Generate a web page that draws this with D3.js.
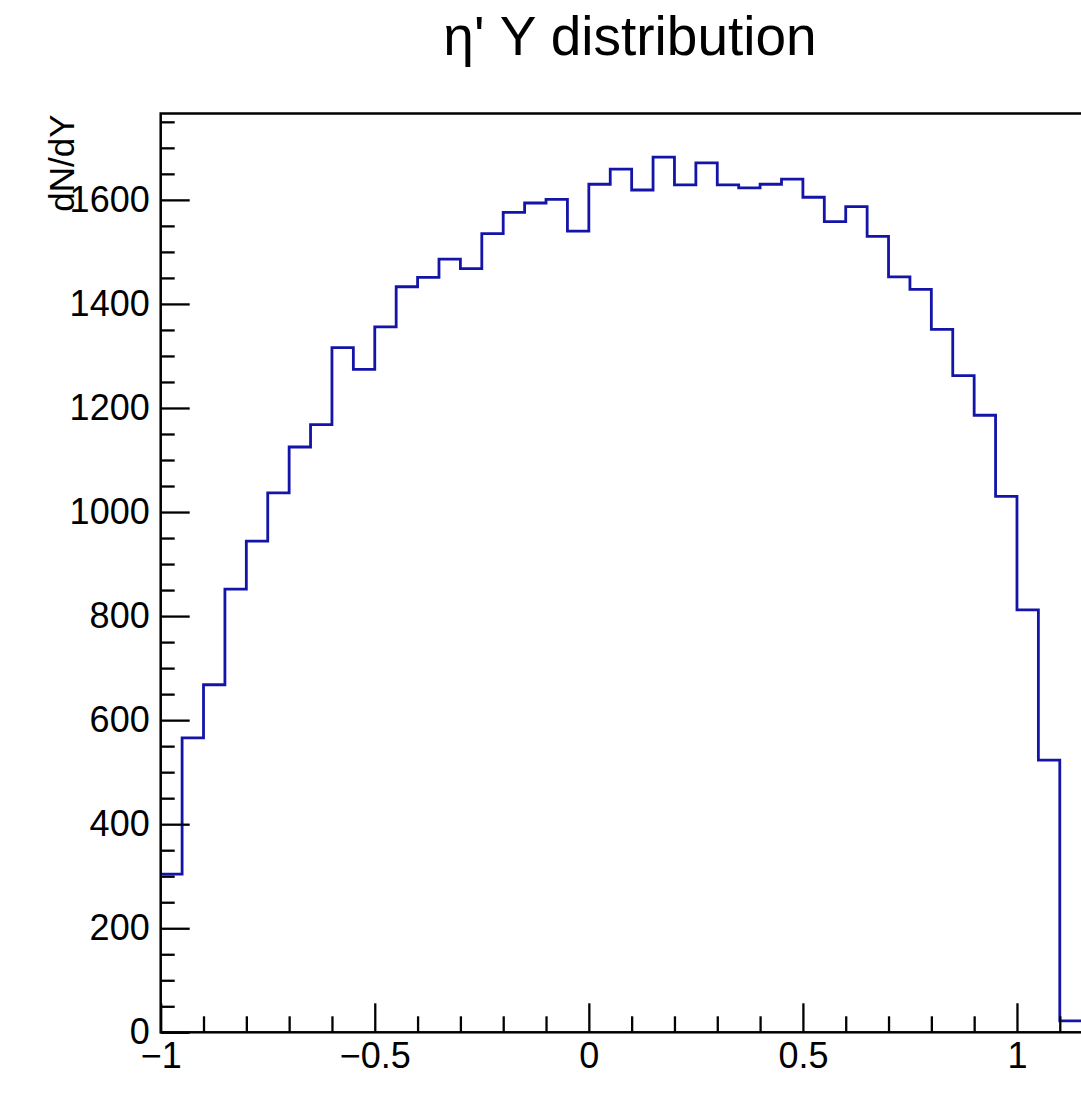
<!DOCTYPE html>
<html>
<head>
<meta charset="utf-8">
<script src="https://cdn.jsdelivr.net/npm/d3@7"></script>
<style>
  html, body { margin: 0; padding: 0; background: #ffffff; }
  svg { display: block; font-family: "Liberation Sans", Arial, Helvetica, sans-serif; }
</style>
</head>
<body>
<svg id="chart" width="1081" height="1100"></svg>
<script>
// ---- data ----
const titleText = "η' Y distribution";
const yTitle = "dN/dY";
const xTitle = "Y";
const binWidth = 0.05;
const binLowEdges = [-1.00, -0.95, -0.90, -0.85, -0.80, -0.75, -0.70, -0.65, -0.60, -0.55,
                     -0.50, -0.45, -0.40, -0.35, -0.30, -0.25, -0.20, -0.15, -0.10, -0.05,
                      0.00,  0.05,  0.10,  0.15,  0.20,  0.25,  0.30,  0.35,  0.40,  0.45,
                      0.50,  0.55,  0.60,  0.65,  0.70,  0.75,  0.80,  0.85,  0.90,  0.95,
                      1.00,  1.05,  1.10];
const counts = [304, 566, 668, 852, 944, 1037, 1125, 1168, 1316, 1274,
                1356, 1433, 1451, 1486, 1468, 1535, 1576, 1594, 1601, 1540,
                1630, 1659, 1619, 1682, 1629, 1671, 1629, 1623, 1630, 1640,
                1605, 1558, 1587, 1530, 1452, 1428, 1351, 1262, 1186, 1030,
                812, 523, 22];
const xMajorTicks = [-1, -0.5, 0, 0.5, 1];
const xMajorLabels = ["\u22121", "\u22120.5", "0", "0.5", "1"];
const xMinorTicks = [-0.9, -0.8, -0.7, -0.6, -0.4, -0.3, -0.2, -0.1, 0.1, 0.2, 0.3, 0.4,
                     0.6, 0.7, 0.8, 0.9, 1.1];
const yMajorTicks = [0, 200, 400, 600, 800, 1000, 1200, 1400, 1600];
const yMinorTicks = [50, 100, 150, 250, 300, 350, 450, 500, 550, 650, 700, 750, 850, 900, 950,
                     1050, 1100, 1150, 1250, 1300, 1350, 1450, 1500, 1550, 1650, 1700, 1750];

// ---- layout ----
const frame = { left: 160.7, right: 1102.6, top: 113.5, bottom: 1032.3 };
const x = d3.scaleLinear().domain([-1, 1.2]).range([frame.left, frame.right]);
const y = d3.scaleLinear().domain([0, 1766]).range([frame.bottom, frame.top]);

const svg = d3.select("#chart");
svg.append("rect").attr("width", 1081).attr("height", 1100).attr("fill", "#ffffff");

// title
svg.append("text")
  .attr("x", 630).attr("y", 55)
  .attr("text-anchor", "middle")
  .attr("font-size", 55)
  .attr("fill", "#000")
  .text(titleText);

// histogram step line
const pts = [];
binLowEdges.forEach((lo, i) => {
  pts.push([x(lo), y(counts[i])]);
  pts.push([x(lo + binWidth), y(counts[i])]);
});
svg.append("path")
  .attr("d", d3.line()(pts))
  .attr("fill", "none")
  .attr("stroke", "#1414a8")
  .attr("stroke-width", 2.8)
  .attr("stroke-linejoin", "miter");

// axes (ticks inward, ROOT style)
const fs = 36;
const gx = svg.append("g").attr("transform", `translate(0,${frame.bottom})`);
gx.call(d3.axisBottom(x).tickValues(xMajorTicks).tickSizeInner(-29).tickSizeOuter(0)
  .tickPadding(10).tickFormat((d, i) => xMajorLabels[i]));
const gxm = svg.append("g").attr("transform", `translate(0,${frame.bottom})`);
gxm.call(d3.axisBottom(x).tickValues(xMinorTicks).tickSizeInner(-16).tickSizeOuter(0)
  .tickFormat(""));

const gy = svg.append("g").attr("transform", `translate(${frame.left},0)`);
gy.call(d3.axisLeft(y).tickValues(yMajorTicks).tickSizeInner(-29).tickSizeOuter(0)
  .tickPadding(11).tickFormat(d3.format("d")));
const gym = svg.append("g").attr("transform", `translate(${frame.left},0)`);
gym.call(d3.axisLeft(y).tickValues(yMinorTicks).tickSizeInner(-14).tickSizeOuter(0)
  .tickFormat(""));

[gx, gxm, gy, gym].forEach(g => {
  g.select(".domain").remove();
  g.selectAll(".tick line").attr("stroke", "#000").attr("stroke-width", 2.3);
  g.selectAll(".tick text").attr("font-size", fs).attr("fill", "#000")
    .attr("font-family", "'Liberation Sans', Arial, Helvetica, sans-serif");
});

// frame
svg.append("rect")
  .attr("x", frame.left).attr("y", frame.top)
  .attr("width", frame.right - frame.left).attr("height", frame.bottom - frame.top)
  .attr("fill", "none").attr("stroke", "#000").attr("stroke-width", 2.5);

// axis titles
svg.append("text")
  .attr("transform", `translate(74,${frame.top + 1}) rotate(-90)`)
  .attr("text-anchor", "end")
  .attr("font-size", 35)
  .attr("fill", "#000")
  .text(yTitle);

svg.append("text")
  .attr("x", frame.right + 6).attr("y", 1102)
  .attr("text-anchor", "end")
  .attr("font-size", 34)
  .attr("fill", "#000")
  .text(xTitle);
</script>
</body>
</html>
